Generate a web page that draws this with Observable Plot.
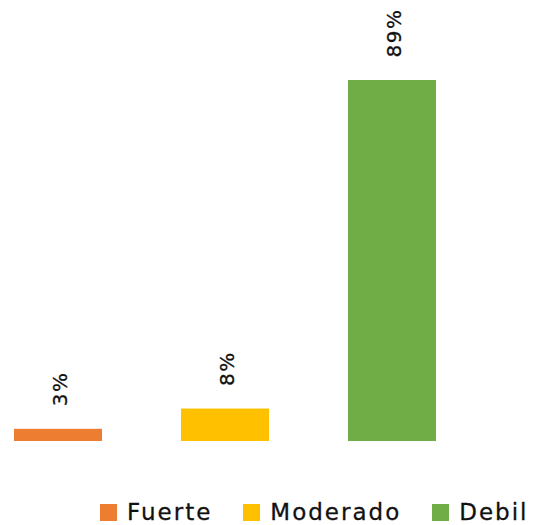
<!DOCTYPE html>
<html>
<head>
<meta charset="utf-8">
<script src="https://cdn.jsdelivr.net/npm/d3@7"></script>
<script src="https://cdn.jsdelivr.net/npm/@observablehq/plot@0.6"></script>
<style>
  html, body { margin: 0; padding: 0; background: #fff; }
  #chart { width: 534px; height: 525px; position: relative; overflow: hidden; }
  .legend { display: flex; align-items: center; padding-left: 100px; height: 50px; box-sizing: border-box; padding-top: 24px;
            font-family: "DejaVu Sans", sans-serif; font-size: 23px; letter-spacing: 2px; color: #111;
            -webkit-text-stroke: 0.3px #111; }
  .item { display: flex; align-items: center; margin-right: 31px; }
  .sw { width: 17px; height: 17px; margin-right: 10px; flex: none; }
</style>
</head>
<body>
<div id="chart"></div>
<script>
const categories = ["Fuerte", "Moderado", "Debil"];
const values = [3, 8, 89];
const labels = ["3%", "8%", "89%"];
const palette = ["#ED7D31", "#FFC000", "#70AD47"];

const data = categories.map((c, i) => ({category: c, value: values[i], label: labels[i]}));

const plot = Plot.plot({
  width: 534,
  height: 475,
  marginLeft: 12.5,
  marginRight: 97.5,
  marginTop: 0,
  marginBottom: 0,
  x: {domain: categories, paddingInner: 0.476, paddingOuter: 0, axis: null},
  y: {domain: [0, 100], range: [441, 35.4], axis: null},
  color: {domain: categories, range: palette},
  style: {fontFamily: "DejaVu Sans, sans-serif"},
  marks: [
    Plot.barY(data, {x: "category", y: "value", fill: "category"}),
    Plot.text(data, {x: "category", y: "value", text: "label", rotate: -90, textAnchor: "start",
      dy: -23, dx: 2, fontSize: 20, fill: "#111", stroke: "#111", strokeWidth: 0.3})
  ]
});
plot.querySelectorAll("text").forEach(t => t.style.letterSpacing = "1.5px");
document.getElementById("chart").appendChild(plot);

const legend = document.createElement("div");
legend.className = "legend";
categories.forEach((c, i) => {
  const item = document.createElement("div");
  item.className = "item";
  const sw = document.createElement("span");
  sw.className = "sw";
  sw.style.background = palette[i];
  const tx = document.createElement("span");
  tx.textContent = c;
  item.appendChild(sw);
  item.appendChild(tx);
  legend.appendChild(item);
});
document.getElementById("chart").appendChild(legend);
</script>
</body>
</html>
